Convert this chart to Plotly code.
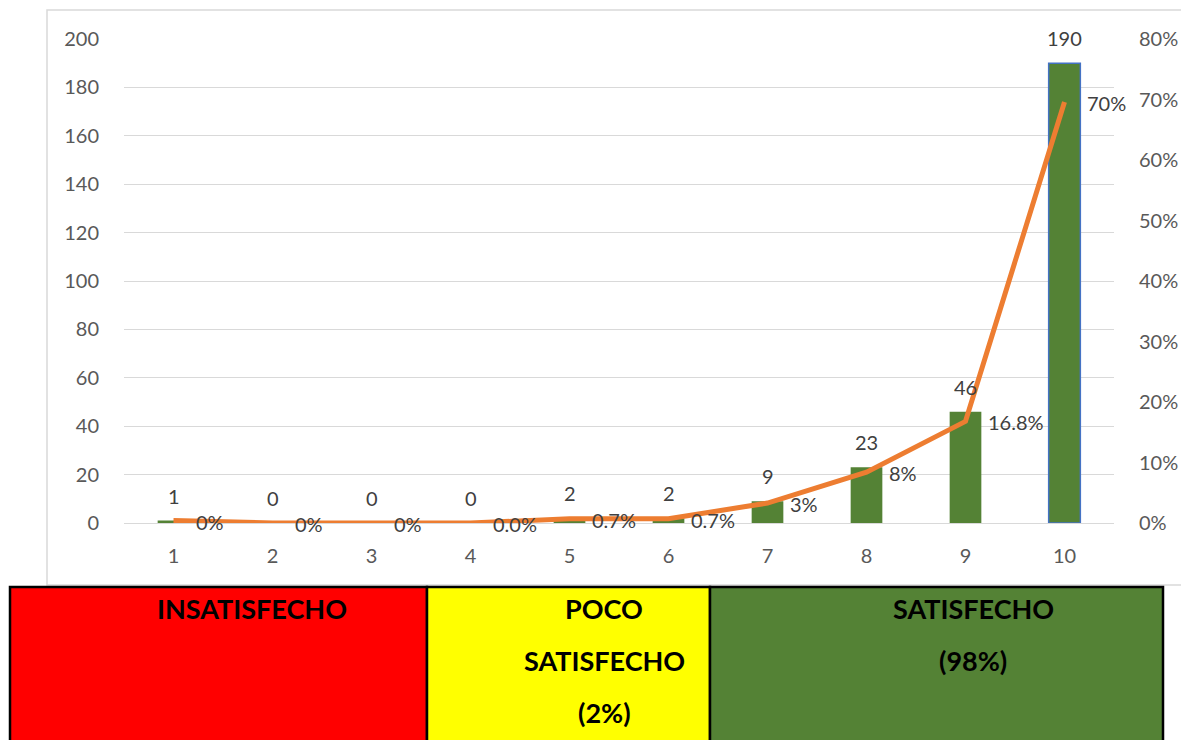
import plotly.graph_objects as go

W, H = 1181, 740

# Satisfaction score distribution
scores = [1, 2, 3, 4, 5, 6, 7, 8, 9, 10]
counts = [1, 0, 0, 0, 2, 2, 9, 23, 46, 190]
pct = [0.4, 0.0, 0.0, 0.0, 0.7, 0.7, 3.3, 8.4, 16.8, 69.6]
pct_decimals = [0, 0, 0, 1, 1, 1, 0, 0, 1, 0]

left_ticks = list(range(0, 201, 20))
right_ticks = list(range(0, 81, 10))

# Category bands shown beneath the chart (one list of text lines per band)
band_lines = [["INSATISFECHO"], ["POCO", "SATISFECHO", "(2%)"], ["SATISFECHO", "(98%)"]]
band_colors = ["#FF0000", "#FFFF00", "#548235"]

FONT = "Lato, Liberation Sans, sans-serif"
AXIS_GREY = "#595959"
LABEL_GREY = "#404040"


def px_x(v):
    return v / W


def px_y(v):
    return 1 - v / H


fig = go.Figure()

bar_line_colors = ["#548235"] * (len(scores) - 1) + ["#4472C4"]
bar_line_widths = [0] * (len(scores) - 1) + [1.5]

fig.add_trace(go.Bar(
    x=scores, y=counts, width=0.32,
    marker=dict(color="#548235", line=dict(color=bar_line_colors, width=bar_line_widths)),
    yaxis="y", showlegend=False, hoverinfo="skip",
))

fig.add_trace(go.Scatter(
    x=scores, y=pct, mode="lines",
    line=dict(color="#ED7D31", width=5),
    yaxis="y2", showlegend=False, hoverinfo="skip",
))

annotations = []
for s, c in zip(scores, counts):
    annotations.append(dict(
        x=s, y=c, xref="x", yref="y", text=str(c), showarrow=False,
        yanchor="middle", yshift=25, font=dict(family=FONT, size=20, color=LABEL_GREY),
    ))
for s, p, d in zip(scores, pct, pct_decimals):
    annotations.append(dict(
        x=s, y=p, xref="x", yref="y2", text=f"{p:.{d}f}%", showarrow=False,
        xanchor="left", yanchor="middle", xshift=20, yshift=-1,
        font=dict(family=FONT, size=20, color=LABEL_GREY),
    ))

# Band cells (pixel edges)
cells = [(10, 427), (427, 710), (710, 1163)]
shapes = [dict(
    type="rect", xref="paper", yref="paper",
    x0=px_x(47), x1=px_x(1190), y0=px_y(585), y1=px_y(10),
    line=dict(color="#D9D9D9", width=1.5), fillcolor="rgba(0,0,0,0)", layer="below",
)]
for (a, b), col in zip(cells, band_colors):
    shapes.append(dict(
        type="rect", xref="paper", yref="paper",
        x0=px_x(a), x1=px_x(b), y0=px_y(750), y1=px_y(587),
        line=dict(color="#000000", width=2.5), fillcolor=col, layer="above",
    ))

band_centers = [252, 604, 973]
line_rows = [608, 660, 712]
for lines, cx in zip(band_lines, band_centers):
    for txt, cy in zip(lines, line_rows):
        annotations.append(dict(
            x=px_x(cx), y=px_y(cy), xref="paper", yref="paper", text=txt, showarrow=False,
            xanchor="center", yanchor="middle",
            font=dict(family=FONT, size=27, color="#000000", weight="bold"),
        ))

fig.update_layout(
    width=W, height=H,
    margin=dict(l=0, r=0, t=0, b=0, autoexpand=False),
    paper_bgcolor="white", plot_bgcolor="white",
    xaxis=dict(
        domain=[px_x(124), px_x(1114)], range=[0.5, 10.5],
        tickvals=scores, ticktext=[str(s) for s in scores],
        showgrid=False, zeroline=False, showline=False,
        ticks="outside", ticklen=15, tickcolor="rgba(0,0,0,0)",
        tickfont=dict(family=FONT, size=20, color=AXIS_GREY),
    ),
    yaxis=dict(
        domain=[px_y(523), px_y(39)], range=[0, 200],
        tickvals=left_ticks, showgrid=True, gridcolor="#D9D9D9", gridwidth=1.3,
        zeroline=True, zerolinecolor="#D9D9D9", zerolinewidth=1.3, showline=False,
        ticks="outside", ticklen=20, tickcolor="rgba(0,0,0,0)",
        tickfont=dict(family=FONT, size=20, color=AXIS_GREY),
    ),
    yaxis2=dict(
        domain=[px_y(523), px_y(39)], range=[0, 80], overlaying="y", side="right",
        anchor="x",
        tickvals=right_ticks, ticktext=[f"{t}%" for t in right_ticks],
        showgrid=False, zeroline=False, showline=False,
        ticks="outside", ticklen=20, tickcolor="rgba(0,0,0,0)",
        tickfont=dict(family=FONT, size=20, color=AXIS_GREY),
    ),
    shapes=shapes,
    annotations=annotations,
)

fig.write_html("out.html")
